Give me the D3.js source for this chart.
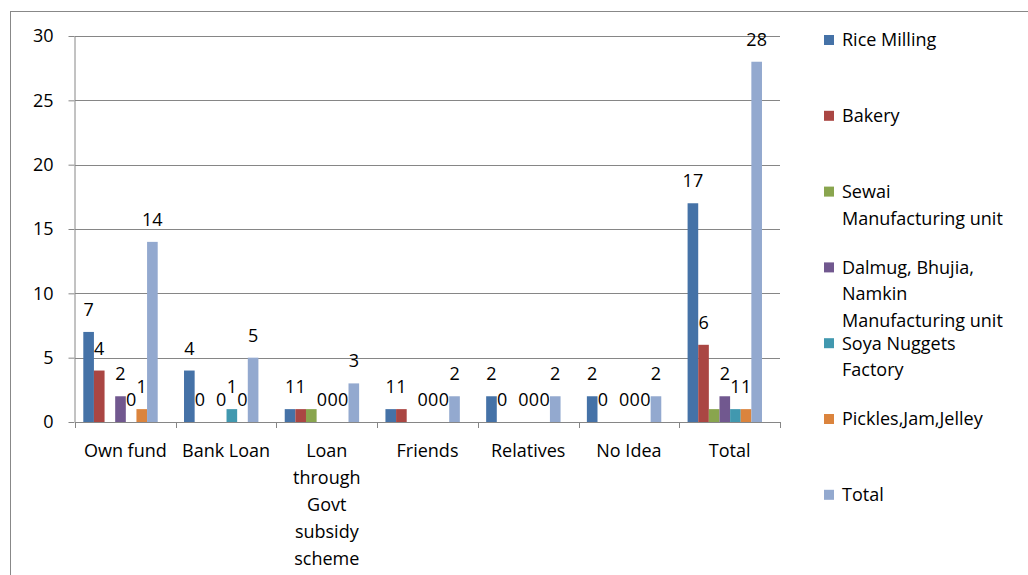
<!DOCTYPE html>
<html>
<head>
<meta charset="utf-8">
<script src="https://cdn.jsdelivr.net/npm/d3@7"></script>
<style>
  html, body { margin: 0; padding: 0; background: #fff; }
  svg { display: block; font-family: "Open Sans", sans-serif; }
</style>
</head>
<body>
<svg id="chart" width="1028" height="575"></svg>
<script>
// ---- data ----
const categories = ["Own fund", "Bank Loan", "Loan through Govt subsidy scheme", "Friends", "Relatives", "No Idea", "Total"];
const seriesNames = ["Rice Milling", "Bakery", "Sewai Manufacturing unit", "Dalmug, Bhujia, Namkin Manufacturing unit", "Soya Nuggets Factory", "Pickles,Jam,Jelley", "Total"];
const riceMilling = [7, 4, 1, 1, 2, 2, 17];
const bakery      = [4, 0, 1, 1, 0, 0, 6];
const sewai       = [null, null, 1, null, null, null, 1];
const dalmug      = [2, 0, 0, 0, 0, 0, 2];
const soya        = [0, 1, 0, 0, 0, 0, 1];
const pickles     = [1, 0, 0, 0, 0, 0, 1];
const totalSeries = [14, 5, 3, 2, 2, 2, 28];
const seriesShowsLabels = [true, true, false, true, true, true, true];
const yTicks = [0, 5, 10, 15, 20, 25, 30];
const colors = ["#4572A7", "#AA4643", "#89A54E", "#71588F", "#4198AF", "#DB843D", "#93A9CF"];

const seriesValues = [riceMilling, bakery, sewai, dalmug, soya, pickles, totalSeries];

(function () {
// ---- layout ----
const svg = d3.select("#chart");
const mLeft = 75, mRight = 780, mTop = 36, mBottom = 422;
const gridColor = "#868686";

// outer chart border
svg.append("rect").attr("x", 10.5).attr("y", 11.5).attr("width", 1040).attr("height", 600)
  .attr("fill", "none").attr("stroke", "#888").attr("stroke-width", 1);

const x0 = d3.scaleBand().domain(categories).range([mLeft, mRight]).paddingInner(0).paddingOuter(0);
const x1 = d3.scaleBand().domain(seriesNames).range([8.3, 8.3 + 74.4]).padding(0);
const y = d3.scaleLinear().domain([0, 30]).range([mBottom, mTop]);

// gridlines
svg.append("g").selectAll("line").data(yTicks.filter(d => d > 0)).join("line")
  .attr("x1", mLeft).attr("x2", mRight)
  .attr("y1", d => Math.round(y(d)) + 0.5).attr("y2", d => Math.round(y(d)) + 0.5)
  .attr("stroke", gridColor).attr("stroke-width", 1);

// y axis
const yAxis = d3.axisLeft(y).tickValues(yTicks).tickSize(6).tickPadding(15).tickFormat(d3.format("d"));
const gy = svg.append("g").attr("transform", `translate(${mLeft - 0.5},0)`).call(yAxis);
gy.select(".domain").attr("stroke", gridColor).attr("d", `M0.5,${mTop}V${mBottom}`);
gy.selectAll(".tick line").attr("stroke", gridColor);
gy.selectAll(".tick text").attr("font-size", 18).attr("fill", "#000").attr("font-family", "Open Sans, sans-serif");

// x axis
svg.append("line").attr("x1", mLeft).attr("x2", mRight).attr("y1", mBottom + 0.5).attr("y2", mBottom + 0.5)
  .attr("stroke", gridColor);
const boundaries = categories.map(c => x0(c)).concat([mRight]);
svg.append("g").selectAll("line").data(boundaries).join("line")
  .attr("x1", d => Math.round(d) + 0.5).attr("x2", d => Math.round(d) + 0.5)
  .attr("y1", mBottom).attr("y2", mBottom + 6).attr("stroke", gridColor);

// wrap helper
function wrapLines(text, maxW, fontSize) {
  const tmp = svg.append("text").attr("font-size", fontSize).attr("font-family", "Open Sans, sans-serif");
  const words = text.split(" ");
  const lines = [];
  let cur = "";
  words.forEach(w => {
    const test = cur ? cur + " " + w : w;
    tmp.text(test);
    if (tmp.node().getComputedTextLength() > maxW && cur) { lines.push(cur); cur = w; }
    else cur = test;
  });
  if (cur) lines.push(cur);
  tmp.remove();
  return lines;
}

// category labels
categories.forEach(c => {
  const lines = wrapLines(c, x0.bandwidth() - 4, 18);
  const t = svg.append("text").attr("text-anchor", "middle").attr("font-size", 18).attr("fill", "#000");
  lines.forEach((ln, i) => {
    t.append("tspan").attr("x", x0(c) + x0.bandwidth() / 2).attr("y", 451 + i * 27).attr("dy", "0.36em").text(ln);
  });
});

// bars
const flat = [];
categories.forEach((c, ci) => {
  seriesNames.forEach((s, si) => {
    const v = seriesValues[si][ci];
    if (v !== null && v !== undefined) flat.push({ c, s, si, v });
  });
});

svg.append("g").selectAll("rect").data(flat).join("rect")
  .attr("x", d => x0(d.c) + x1(d.s))
  .attr("width", x1.bandwidth())
  .attr("y", d => y(d.v))
  .attr("height", d => y(0) - y(d.v))
  .attr("fill", d => colors[d.si]);

// data labels
svg.append("g").selectAll("text").data(flat.filter(d => seriesShowsLabels[d.si])).join("text")
  .attr("x", d => x0(d.c) + x1(d.s) + x1.bandwidth() / 2)
  .attr("y", d => y(d.v) - 16)
  .attr("text-anchor", "middle").attr("font-size", 18).attr("fill", "#000")
  .text(d => d.v);

// legend
const legendY0 = 40, legendStep = 75.8, lineH = 26.5;
seriesNames.forEach((s, i) => {
  const cy = legendY0 + i * legendStep;
  svg.append("rect").attr("x", 824).attr("y", cy - 5).attr("width", 10).attr("height", 10).attr("fill", colors[i]);
  const lines = wrapLines(s, 176, 18);
  const t = svg.append("text").attr("font-size", 18).attr("fill", "#000");
  lines.forEach((ln, j) => {
    t.append("tspan").attr("x", 842).attr("y", cy + j * lineH).attr("dy", "0.36em").text(ln);
  });
});
})();
</script>
</body>
</html>
